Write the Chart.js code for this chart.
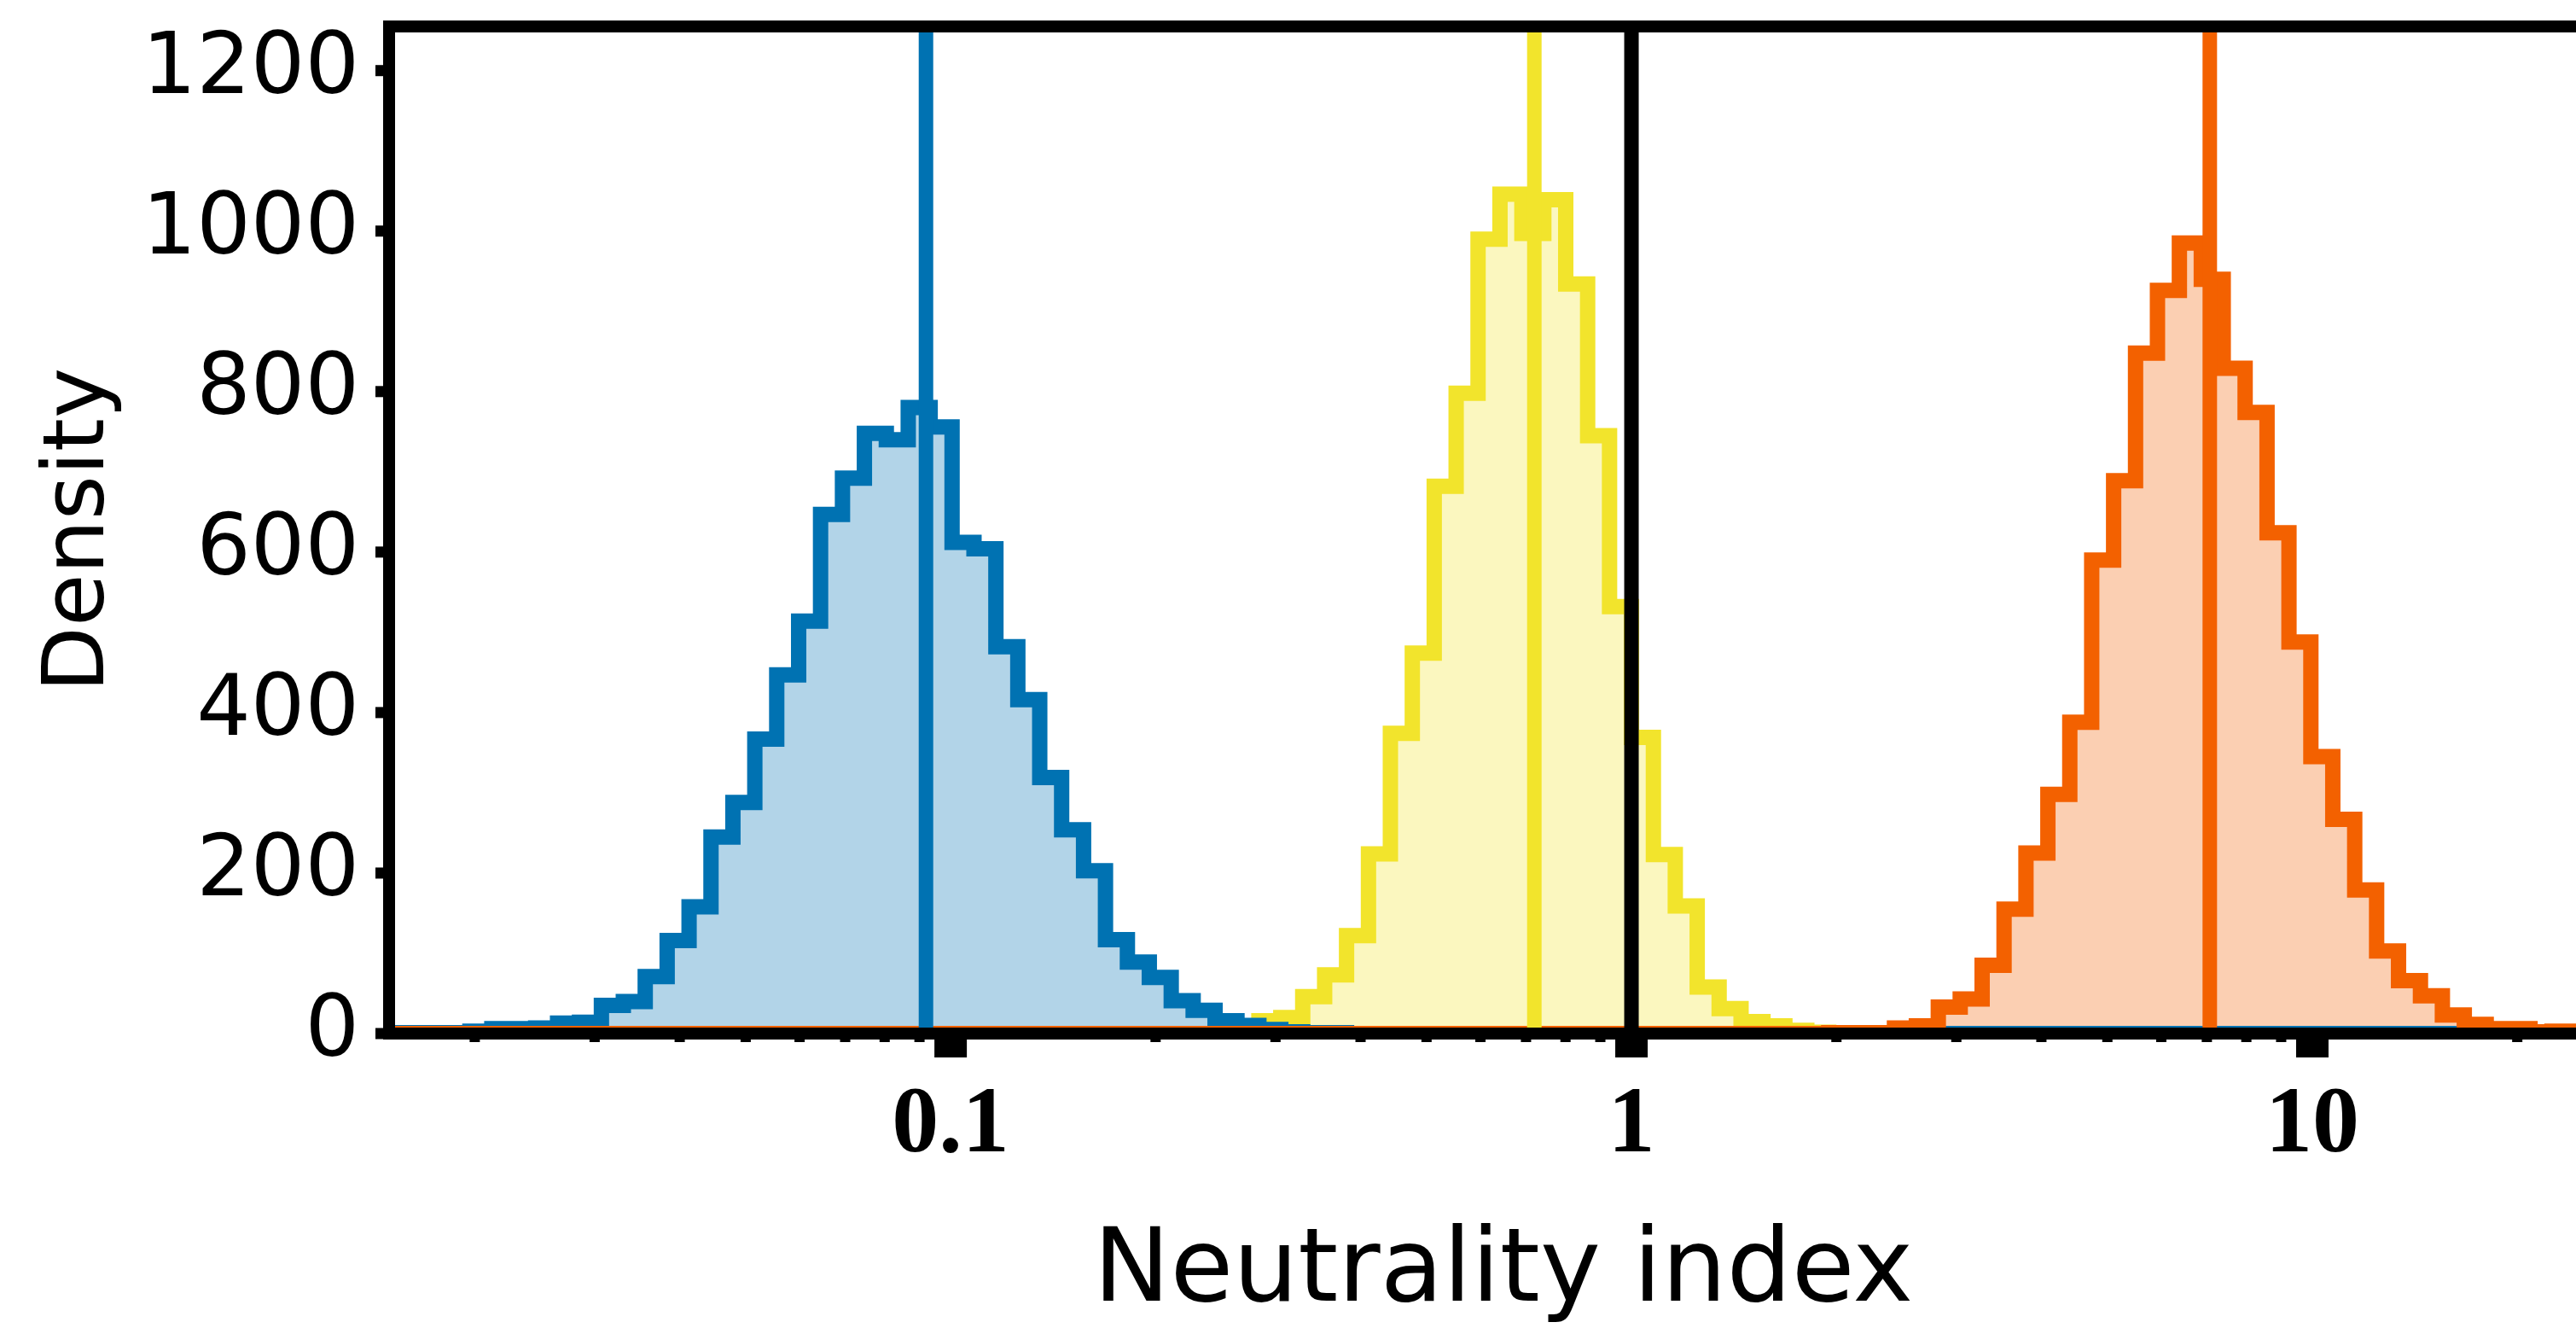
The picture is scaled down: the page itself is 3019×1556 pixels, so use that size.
<!DOCTYPE html>
<html>
<head>
<meta charset="utf-8">
<title>Neutrality index</title>
<script src="https://cdn.jsdelivr.net/npm/chart.js@4.4.1/dist/chart.umd.min.js"></script>
<style>
    html, body { margin: 0; padding: 0; background: #fff; overflow: hidden; }
    canvas { display: block; }
</style>
</head>
<body>
<canvas id="chart" width="3100" height="1556"></canvas>
<script>
(function(global){
    "use strict";

    // bins are equal in log10, edge k sits at k * BIN_WIDTH
    var BIN_WIDTH = 0.03219;

    var X_MIN = 0.01497;
    var X_MAX = 28.1;
    var Y_MAX = 1255;

    var yTicks = [0, 200, 400, 600, 800, 1000, 1200];
    var xMajorTicks = [0.1, 1, 10];
    var xTickLabels = ["0.1", "1", "10"];

    var blueFirstBin = -57;
    var blueDensity = [1, 1, 1, 1, 3, 6, 6, 7, 13, 14, 35, 40, 71, 116, 158, 245, 288, 367, 447, 514,
        647, 692, 748, 740, 780, 756, 612, 604, 482, 416, 319, 254, 203, 117, 89, 70, 41, 29, 16, 10,
        5, 2, 1, 1];

    var yellowFirstBin = -19;
    var yellowDensity = [2, 4, 16, 20, 46, 73, 122, 224, 374, 474, 682, 798, 990, 1046, 997, 1039,
        934, 745, 532, 369, 223, 159, 58, 31, 15, 9.5, 4, 1.5, 1, 0.5];

    var orangeFirstBin = 9;
    var orangeDensity = [1, 1, 1, 7, 9.5, 33, 43, 85, 155, 225, 298, 388, 590, 689, 848, 926, 985,
        940, 829, 774, 624, 488, 345, 267, 179, 103, 66, 47, 23, 11.5, 6, 6, 2, 3, 2, 1];

    var medians = [0.092, 0.72, 7.07];
    var neutralValue = 1;

    var BLUE = "#0072B2";
    var YELLOW = "#F2E42C";
    var ORANGE = "#F36100";

    var edge = function(k) {
        return Math.pow(10, k * BIN_WIDTH);
    };

    // step outline: zero, each bin held to its right edge, back to zero
    var histPoints = function(firstBin, values) {
        var pts = [{x: 0.005, y: 0}];
        for(var i = 0; i < values.length; i++) {
            pts.push({x: edge(firstBin + i), y: values[i]});
        }
        pts.push({x: edge(firstBin + values.length), y: 0});
        pts.push({x: 60, y: 0});
        return pts;
    };

    var stepLine = function(points, color) {
        return {
            data: points,
            borderColor: color,
            borderWidth: 18,
            borderJoinStyle: "miter",
            borderCapStyle: "butt",
            stepped: "before",
            fill: false,
            pointRadius: 0,
            clip: 0
        };
    };

    var stepFill = function(points, rgb) {
        return {
            data: points,
            borderWidth: 0,
            borderColor: "rgba(0,0,0,0)",
            backgroundColor: "rgba(" + rgb + ",0.3)",
            stepped: "before",
            fill: "origin",
            pointRadius: 0,
            clip: 0
        };
    };

    var vLine = function(x, color) {
        return {
            data: [{x: x, y: 0}, {x: x, y: Y_MAX}],
            borderColor: color,
            borderWidth: 17,
            borderCapStyle: "butt",
            fill: false,
            pointRadius: 0,
            clip: 0
        };
    };

    var bluePts = histPoints(blueFirstBin, blueDensity);
    var yellowPts = histPoints(yellowFirstBin, yellowDensity);
    var orangePts = histPoints(orangeFirstBin, orangeDensity);

    // first dataset is painted last, so the list runs top to bottom
    var datasets = [
        vLine(neutralValue, "#000"),
        vLine(medians[2], ORANGE),
        vLine(medians[1], YELLOW),
        vLine(medians[0], BLUE),
        stepLine(orangePts, ORANGE),
        stepLine(bluePts, BLUE),
        stepLine(yellowPts, YELLOW),
        stepFill(orangePts, "243,97,0"),
        stepFill(yellowPts, "242,228,44"),
        stepFill(bluePts, "0,114,178")
    ];

    var majorIndex = function(v) {
        for(var i = 0; i < xMajorTicks.length; i++) {
            if(Math.abs(v - xMajorTicks[i]) < xMajorTicks[i] * 1e-6) {
                return i;
            }
        }
        return -1;
    };

    // matplotlib-like spines and ticks, placed through the chart scales
    var framePlugin = {
        id: "frame",
        afterDatasetsDraw: function(chart) {
            var ctx = chart.ctx;
            var area = chart.chartArea;
            var xs = chart.scales.x;
            var ys = chart.scales.y;
            var half = 7;

            ctx.save();
            ctx.fillStyle = "#000";

            ctx.fillRect(area.left - half, area.top - half, 2 * half, area.bottom - area.top + 2 * half);
            ctx.fillRect(area.left - half, area.top - half, area.right - area.left + 2 * half, 2 * half);
            ctx.fillRect(area.left - half, area.bottom - half, area.right - area.left + 2 * half, 2 * half);

            for(var i = 0; i < yTicks.length; i++) {
                var y = ys.getPixelForValue(yTicks[i]);
                ctx.fillRect(area.left - 16, y - 6.5, 16, 13);
            }

            for(var d = -2; d <= 1; d++) {
                for(var m = 2; m <= 9; m++) {
                    var v = m * Math.pow(10, d);
                    if(v < X_MIN || v > X_MAX) {
                        continue;
                    }
                    var mx = xs.getPixelForValue(v);
                    ctx.fillRect(mx - 6, area.bottom, 12, 10);
                }
            }

            for(var j = 0; j < xMajorTicks.length; j++) {
                var x = xs.getPixelForValue(xMajorTicks[j]);
                ctx.fillRect(x - 19, area.bottom, 38, 28);
            }

            ctx.restore();
        }
    };

    var chart = new Chart(document.getElementById("chart"), {
        type: "line",
        data: {datasets: datasets},
        plugins: [framePlugin],
        options: {
            responsive: false,
            animation: false,
            devicePixelRatio: 1,
            layout: {padding: {top: 31, right: 32, left: 0, bottom: 0}},
            plugins: {
                legend: {display: false},
                tooltip: {enabled: false}
            },
            scales: {
                x: {
                    type: "logarithmic",
                    min: X_MIN,
                    max: X_MAX,
                    afterFit: function(scale) {
                        scale.height = 345;
                        scale.paddingLeft = 0;
                        scale.paddingRight = 0;
                    },
                    grid: {display: false, drawTicks: false},
                    border: {display: false},
                    ticks: {
                        autoSkip: false,
                        maxRotation: 0,
                        padding: 44,
                        color: "#000",
                        font: {family: "'Liberation Serif'", size: 110, weight: "bold", lineHeight: 1.2},
                        callback: function(value) {
                            var idx = majorIndex(value);
                            return idx >= 0 ? xTickLabels[idx] : "";
                        }
                    },
                    title: {
                        display: true,
                        text: "Neutrality index",
                        color: "#000",
                        font: {family: "'DejaVu Sans'", size: 120, lineHeight: 1},
                        padding: {top: 0, bottom: 3}
                    }
                },
                y: {
                    min: 0,
                    max: Y_MAX,
                    afterBuildTicks: function(scale) {
                        scale.ticks = yTicks.map(function(v) { return {value: v}; });
                    },
                    afterFit: function(scale) {
                        scale.width = 456;
                        scale.paddingTop = 0;
                        scale.paddingBottom = 0;
                    },
                    grid: {display: false, drawTicks: false},
                    border: {display: false},
                    ticks: {
                        autoSkip: false,
                        padding: 35,
                        color: "#000",
                        font: {family: "'DejaVu Sans'", size: 100},
                        callback: function(value) {
                            return String(value);
                        }
                    },
                    title: {
                        display: true,
                        text: "Density",
                        color: "#000",
                        font: {family: "'DejaVu Sans'", size: 100, lineHeight: 1},
                        padding: {top: 45, bottom: 0}
                    }
                }
            }
        }
    });

    global.neutralityChart = chart;

})(window);
</script>
</body>
</html>
